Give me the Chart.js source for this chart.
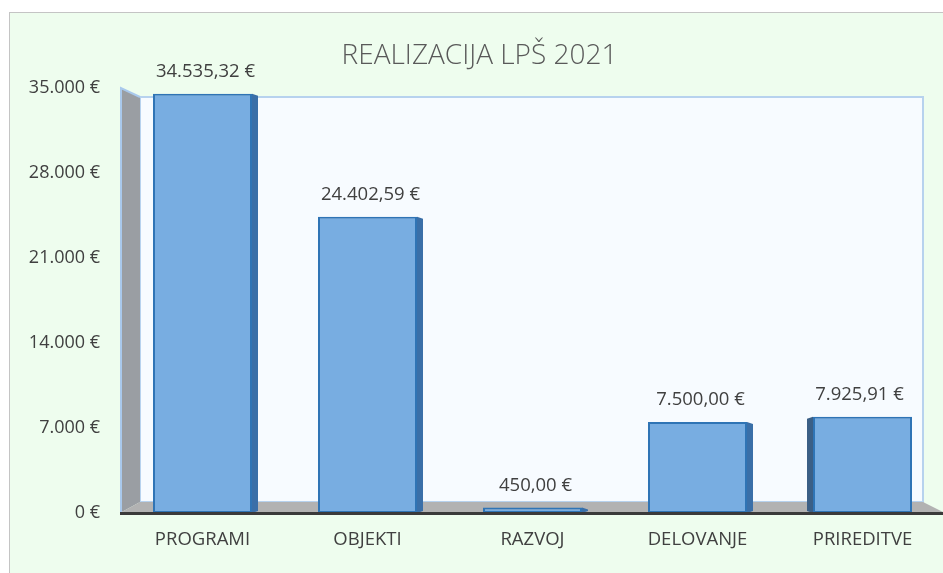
<!DOCTYPE html>
<html>
<head>
<meta charset="utf-8">
<script src="https://cdn.jsdelivr.net/npm/chart.js@4.4.1/dist/chart.umd.min.js"></script>
<style>
    html, body { margin: 0; padding: 0; background: #fff; overflow: hidden; }
    #wrap { width: 948px; height: 573px; }
</style>
</head>
<body>
<div id="wrap"><canvas id="my-lps" width="948" height="573"></canvas></div>
<script>
/*
    Data
*/
const categories = ['PROGRAMI', 'OBJEKTI', 'RAZVOJ', 'DELOVANJE', 'PRIREDITVE'];
const values = [34535.32, 24402.59, 450.00, 7500.00, 7925.91];
const yTicks = [0, 7000, 14000, 21000, 28000, 35000];
const chartTitle = 'REALIZACIJA LPŠ 2021';

// 34535.32 -> "34.535,32 €"
function euro(v, decimals) {
    const parts = v.toFixed(decimals).split('.');
    parts[0] = parts[0].replace(/\B(?=(\d{3})+(?!\d))/g, '.');
    return parts.join(',') + ' €';
}

const textColor = '#404040';
const fontFamily = '"Open Sans", "DejaVu Sans", sans-serif';

/*
    Excel-like 3D frame: walls, floor, bar sides, value labels
*/
const frame3d = {
    id: 'frame3d',
    beforeDraw(chart) {
        const c = chart.ctx;
        c.save();
        c.fillStyle = '#eefdee';
        c.fillRect(9, 12, chart.width, chart.height);
        c.strokeStyle = '#c4c4c4';
        c.lineWidth = 1;
        c.strokeRect(9.5, 12.5, chart.width, chart.height);
        c.restore();
    },
    beforeDatasetsDraw(chart) {
        const c = chart.ctx;
        const { left, top, right, bottom } = chart.chartArea;
        c.save();
        // back wall
        c.fillStyle = '#f7fbff';
        c.fillRect(left + 20, top + 9, right - 22 - (left + 20), bottom - 11 - (top + 9));
        c.strokeStyle = '#b7d2ee';
        c.lineWidth = 2;
        c.strokeRect(left + 20, top + 9, right - 22 - (left + 20), bottom - 11 - (top + 9));
        // side wall
        c.beginPath();
        c.moveTo(left, top);
        c.lineTo(left + 20, top + 9);
        c.lineTo(left + 20, bottom - 11);
        c.lineTo(left, bottom);
        c.closePath();
        c.fillStyle = '#9a9ea3';
        c.fill();
        c.beginPath();
        c.moveTo(left + 1, bottom);
        c.lineTo(left + 1, top);
        c.lineTo(left + 20, top + 9);
        c.strokeStyle = '#a9c9ec';
        c.lineWidth = 2;
        c.stroke();
        // floor
        c.beginPath();
        c.moveTo(left, bottom);
        c.lineTo(left + 20, bottom - 11);
        c.lineTo(right - 22, bottom - 11);
        c.lineTo(right, bottom);
        c.closePath();
        c.fillStyle = '#b2b2b2';
        c.fill();
        c.restore();
    },
    afterDatasetsDraw(chart) {
        const c = chart.ctx;
        const { left, right, bottom } = chart.chartArea;
        const bars = chart.getDatasetMeta(0).data;
        c.save();
        bars.forEach((bar, i) => {
            const p = bar.getProps(['x', 'y', 'base', 'width'], true);
            const half = p.width / 2;
            const onLeft = i === bars.length - 1;
            const edge = onLeft ? p.x - half : p.x + half;
            const dir = onLeft ? -1 : 1;
            c.beginPath();
            c.moveTo(edge, p.y);
            c.lineTo(edge + dir * 6, p.y + 2);
            c.lineTo(edge + dir * 6, p.base - 2);
            c.lineTo(edge, p.base);
            c.closePath();
            c.fillStyle = onLeft ? '#3b5f86' : '#3a6fa8';
            c.fill();
            // value label
            c.fillStyle = textColor;
            c.font = '18.5px ' + fontFamily;
            c.textAlign = 'center';
            c.textBaseline = 'middle';
            c.fillText(euro(values[i], 2), p.x + dir * 3, p.y - 22);
        });
        // front floor edge
        c.beginPath();
        c.moveTo(left, bottom + 0.5);
        c.lineTo(right + 5, bottom + 0.5);
        c.strokeStyle = '#3a3a3a';
        c.lineWidth = 3;
        c.stroke();
        c.restore();
    }
};

const ctx = document.getElementById('my-lps').getContext('2d');
const myChart = new Chart(ctx, {
    type: 'bar',
    data: {
        labels: categories,
        datasets: [{
            label: chartTitle,
            data: values,
            backgroundColor: '#78ade1', // front face
            borderColor: '#2f74b5',
            borderWidth: 2,
            borderSkipped: false,
            categoryPercentage: 1,
            barPercentage: 0.6
        }]
    },
    options: {
        animation: false,
        responsive: false,
        layout: {
            padding: { left: 14, right: 3, top: 0, bottom: 0 }
        },
        plugins: {
            legend: { display: false },
            tooltip: { enabled: false },
            title: {
                display: true,
                text: chartTitle,
                color: '#595959',
                font: { family: fontFamily, size: 28, weight: '300', lineHeight: 1.2 },
                padding: { top: 39, bottom: 15.4 }
            }
        },
        scales: {
            x: {
                grid: { display: false, drawTicks: false },
                border: { display: false },
                ticks: {
                    color: textColor,
                    font: { family: fontFamily, size: 18.5 },
                    padding: 16,
                    maxRotation: 0
                },
                afterFit: function(scale) {
                    scale.height = 60;
                }
            },
            y: {
                min: 0,
                max: 35000,
                grid: { display: false, drawTicks: false },
                border: { display: false },
                afterBuildTicks: function(scale) {
                    scale.ticks = yTicks.map(v => ({ value: v }));
                },
                ticks: {
                    color: textColor,
                    font: { family: fontFamily, size: 18 },
                    padding: 20,
                    callback: function(value) {
                        return euro(value, 0);
                    }
                },
                afterFit: function(scale) {
                    scale.width = 106;
                }
            }
        }
    },
    plugins: [frame3d]
});
</script>
</body>
</html>
